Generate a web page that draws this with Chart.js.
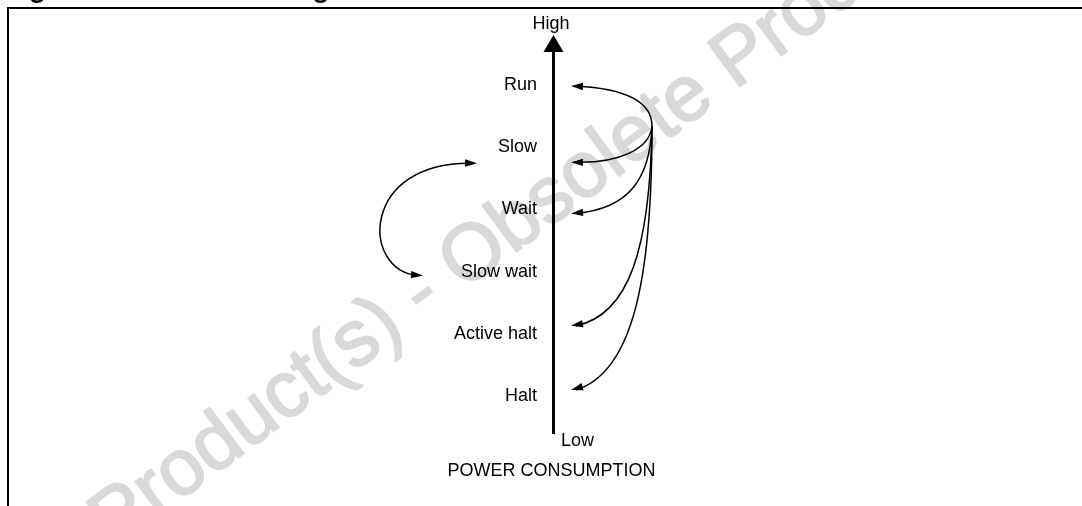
<!DOCTYPE html>
<html><head><meta charset="utf-8">
<script src="https://cdn.jsdelivr.net/npm/chart.js@4.4.1/dist/chart.umd.min.js"></script>
<style>html,body{margin:0;padding:0;background:#fff;overflow:hidden}canvas{display:block}</style>
</head><body>
<canvas id="c" width="1082" height="506"></canvas>
<script>
const figureTitle = 'Figure 20. Power saving mode transitions';
const states = ['Run', 'Slow', 'Wait', 'Slow wait', 'Active halt', 'Halt'];
const powerLevels = [6, 5, 4, 3, 2, 1];
const runTransitions = ['Run', 'Slow', 'Wait', 'Active halt', 'Halt'];
const slowTransitions = ['Slow', 'Slow wait'];
const axisEnds = ['High', 'Low'];
const axisTitle = 'POWER CONSUMPTION';
const watermarkLead = 'Obsolete ';
const watermarkText = 'Product(s) - Obsolete Product(s)';

const FONT = "'Liberation Sans', Arial, Helvetica, sans-serif";
const levelOf = s => powerLevels[states.indexOf(s)];

// drawing style (pixel offsets relative to axis / level pixels)
const tipNudge = { 'Run': 1, 'Slow': 15, 'Wait': 4, 'Active halt': -8, 'Halt': -6 };
const ctrlRun = {
  'Run':         [0, -30, 42, 2],
  'Slow':        [-2, 23, 48, 1],
  'Wait':        [-2, 53, 58, -5],
  'Active halt': [-2, 123, 58, -11],
  'Halt':        [0, 153, 62, -18]
};

function arrowHead(ctx, tx, ty, fx, fy, len, half) {
  const a = Math.atan2(ty - fy, tx - fx);
  const c = Math.cos(a), s = Math.sin(a);
  const bx = tx - c * len, by = ty - s * len;
  ctx.beginPath();
  ctx.moveTo(tx, ty);
  ctx.lineTo(bx - s * half, by + c * half);
  ctx.lineTo(bx + s * half, by - c * half);
  ctx.closePath();
  ctx.fill();
}

const diagram = {
  id: 'diagram',
  beforeDraw(chart) {
    const ctx = chart.ctx;
    ctx.save();
    ctx.fillStyle = '#d9d9d9';
    ctx.strokeStyle = '#d9d9d9';
    ctx.lineWidth = 2;
    ctx.lineJoin = 'round';
    ctx.font = '79px ' + FONT;
    ctx.textBaseline = 'alphabetic';
    ctx.translate(113.6, 549.7);
    ctx.rotate(-36.5 * Math.PI / 180);
    const w = ctx.measureText(watermarkLead).width;
    ctx.fillText(watermarkLead, -w, 0);
    ctx.strokeText(watermarkLead, -w, 0);
    ctx.fillText(watermarkText, 0, 0);
    ctx.strokeText(watermarkText, 0, 0);
    ctx.restore();
  },
  afterDraw(chart) {
    const ctx = chart.ctx;
    const ca = chart.chartArea;
    const ys = chart.scales.y;
    const xA = ca.left + 0.5;
    const py = s => ys.getPixelForValue(levelOf(s));
    ctx.save();
    // frame
    ctx.strokeStyle = '#000';
    ctx.lineWidth = 2;
    ctx.beginPath();
    ctx.moveTo(8, 506);
    ctx.lineTo(8, 8);
    ctx.lineTo(1082, 8);
    ctx.stroke();
    // cut-off figure title
    ctx.fillStyle = '#000';
    ctx.font = 'bold 28.5px ' + FONT;
    ctx.textAlign = 'left';
    ctx.textBaseline = 'alphabetic';
    ctx.fillText(figureTitle, 3.3, -3);
    // axis arrowhead
    ctx.beginPath();
    ctx.moveTo(xA, ca.top - 17);
    ctx.lineTo(xA + 10, ca.top);
    ctx.lineTo(xA - 10, ca.top);
    ctx.closePath();
    ctx.fill();
    // axis texts
    ctx.font = '18px ' + FONT;
    ctx.textAlign = 'center';
    ctx.fillText(axisEnds[0], xA - 2.5, ca.top - 23.5);
    ctx.textAlign = 'left';
    ctx.fillText(axisEnds[1], xA + 7.5, ca.bottom + 13);
    ctx.textAlign = 'center';
    ctx.fillText(axisTitle, xA - 2, ca.bottom + 43);
    // transitions from the run source point
    ctx.lineWidth = 1.5;
    const src = { x: xA + 98.5, y: py('Run') + 41 };
    runTransitions.forEach(t => {
      const tip = { x: xA + 17.5, y: py(t) + tipNudge[t] };
      const c = ctrlRun[t];
      const c1 = { x: src.x + c[0], y: src.y + c[1] };
      const c2 = { x: tip.x + c[2], y: tip.y + c[3] };
      ctx.beginPath();
      ctx.moveTo(src.x, src.y);
      ctx.bezierCurveTo(c1.x, c1.y, c2.x, c2.y, tip.x + 5, tip.y);
      ctx.stroke();
      arrowHead(ctx, tip.x, tip.y, c2.x, c2.y, 12, 3.7);
    });
    // slow <-> slow wait
    const top = { x: xA - 76.5, y: py(slowTransitions[0]) + 16 };
    const bot = { x: xA - 130.5, y: py(slowTransitions[1]) + 4 };
    const k1 = { x: xA - 193, y: top.y - 2 };
    const k2 = { x: xA - 193, y: bot.y - 5 };
    ctx.beginPath();
    ctx.moveTo(top.x - 5, top.y);
    ctx.bezierCurveTo(k1.x, k1.y, k2.x, k2.y, bot.x - 5, bot.y);
    ctx.stroke();
    arrowHead(ctx, top.x, top.y, k1.x, k1.y, 12, 3.7);
    arrowHead(ctx, bot.x, bot.y, k2.x, k2.y, 12, 3.7);
    ctx.restore();
  }
};

new Chart(document.getElementById('c'), {
  type: 'scatter',
  data: { datasets: [] },
  options: {
    responsive: false,
    animation: false,
    events: [],
    layout: { padding: { top: 52, bottom: 73, left: 0, right: 0 } },
    plugins: { legend: { display: false }, tooltip: { enabled: false }, title: { display: false } },
    scales: {
      x: { type: 'linear', display: false, min: 0, max: 1 },
      y: {
        type: 'linear',
        position: 'left',
        min: 0.405,
        max: 6.53,
        afterFit(s) { s.width = 553; },
        afterBuildTicks(s) { s.ticks = powerLevels.map(v => ({ value: v })); },
        grid: { display: false, drawTicks: false },
        border: { display: true, color: '#000', width: 3 },
        ticks: {
          autoSkip: false,
          padding: 16,
          color: '#000',
          font: { family: FONT, size: 18 },
          callback: v => states[powerLevels.indexOf(v)]
        }
      }
    }
  },
  plugins: [diagram]
});
</script>
</body></html>
